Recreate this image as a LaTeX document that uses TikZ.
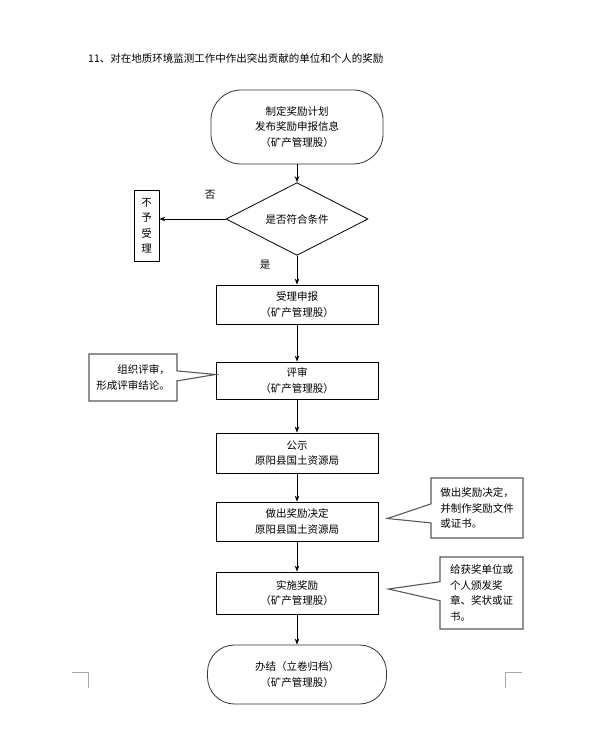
\documentclass[tikz,border=0pt]{standalone}
\usepackage{fontspec}
\newfontfamily\cjk{Noto Sans CJK SC}
\usetikzlibrary{shapes.geometric,shapes.callouts,arrows.meta}
\begin{document}
\begin{tikzpicture}
  [x=1pt,y=-1pt,
   every node/.style={font=\cjk\fontsize{10.5}{15.5}\selectfont,align=center,inner sep=1pt},
   term/.style={draw=black!80,line width=0.8pt,rounded corners=30pt,minimum width=172pt,minimum height=74pt},
   box/.style={draw,line width=0.8pt,minimum width=162pt,minimum height=39pt},
   note/.style={rectangle callout,draw=black!65,line width=1.1pt,fill=white},
   flow/.style={-{Stealth[length=6pt,width=4.5pt]},line width=0.8pt}]
  \useasboundingbox (0,0) rectangle (594,743);
  \node (title)[anchor=west] at (87,59) {11、对在地质环境监测工作中作出突出贡献的单位和个人的奖励};
  \node (start)[term] at (297,127) {制定奖励计划\\发布奖励申报信息\\（矿产管理股）};
  \node (check)[diamond,draw,line width=0.8pt,minimum width=142pt,minimum height=44pt,inner sep=0pt] at (297,219) {是否符合条件};
  \node (reject)[draw,line width=0.8pt,minimum width=25pt,minimum height=71pt,inner sep=0pt] at (146.5,225.5) {不\\予\\受\\理};
  \node (no) at (210,195) {否};
  \node (yes) at (265,265) {是};
  \node (accept)[box] at (297,304.5) {受理申报\\（矿产管理股）};
  \node (review)[box,minimum height=37pt] at (297,380.5) {评审\\（矿产管理股）};
  \node (publish)[box,minimum height=40pt] at (297,453) {公示\\原阳县国土资源局};
  \node (decide)[box] at (297,521.5) {做出奖励决定\\原阳县国土资源局};
  \node (award)[box,minimum height=42pt] at (297,593) {实施奖励\\（矿产管理股）};
  \node (finish)[term,minimum width=179pt,minimum height=59pt,rounded corners=27pt] at (297,674.5) {办结（立卷归档）\\（矿产管理股）};
  % remarks beside the steps
  \node (remark1)[note,minimum width=88pt,minimum height=47pt,align=right,
    callout absolute pointer={([yshift=6pt]review.west)},callout pointer width=10pt] at (133,377.5) {组织评审，\\形成评审结论。};
  \node (remark2)[note,minimum width=92pt,minimum height=60pt,align=left,
    callout absolute pointer={([xshift=9pt,yshift=3pt]decide.east)},callout pointer width=19pt] at (477,508) {做出奖励决定，\\并制作奖励文件\\或证书。};
  \node (remark3)[note,minimum width=83pt,minimum height=72pt,align=left,
    callout absolute pointer={([xshift=10pt,yshift=4pt]award.east)},callout pointer width=19pt] at (481.5,593) {给获奖单位或\\个人颁发奖\\章、奖状或证\\书。};
  \foreach \from/\to in {start/check,check/accept,accept/review,review/publish,publish/decide,decide/award,award/finish}
    \draw[flow] (\from) -- (\to);
  \draw[flow] (check.west) -- (check.west -| reject.east);
  % page corner marks
  \draw[black!35,line width=0.8pt] (72,672) -- (88,672) -- (88,688);
  \draw[black!35,line width=0.8pt] (522,672) -- (505,672) -- (505,688);
\end{tikzpicture}
\end{document}
